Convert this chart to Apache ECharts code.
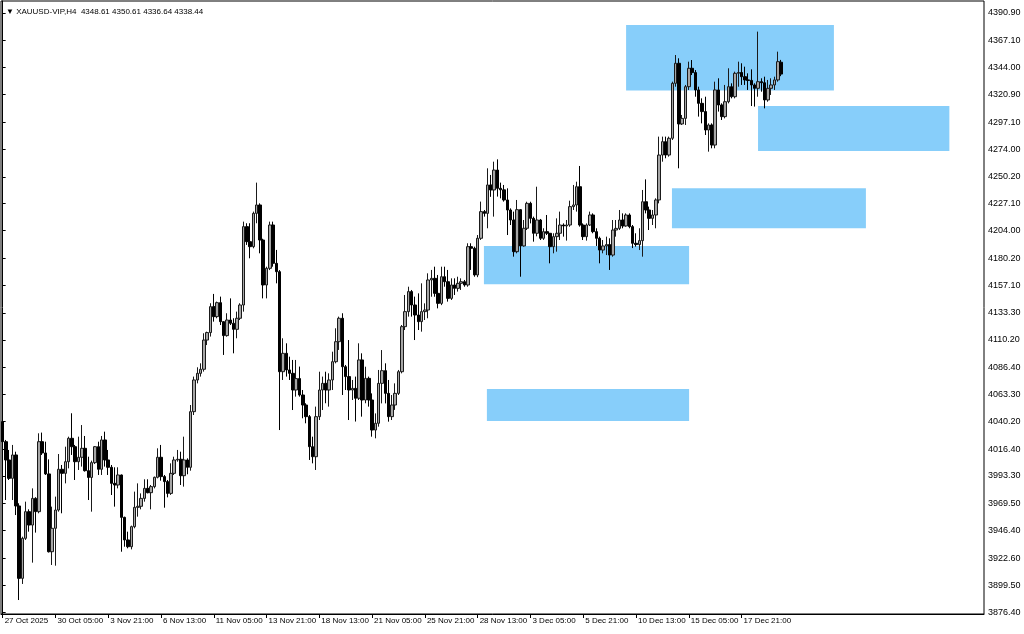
<!DOCTYPE html>
<html>
<head>
<meta charset="utf-8">
<script src="https://cdn.jsdelivr.net/npm/echarts@6/dist/echarts.min.js"></script>
<style>
html,body{margin:0;padding:0;background:#fff;}
#c{width:1024px;height:634px;}
</style>
</head>
<body>
<div id="c"></div>
<script>
// ---- data (H4 bars, [open, close, low, high]) ----
const symbolName = 'XAUUSD-VIP,H4';
const ohlc = [
[4039.9,4022.7,4014.1,4050.5],[4022.7,4007.0,3972.6,4024.2],[4007.0,3991.2,3989.8,4015.6],[3991.2,4011.3,3972.6,4019.9],
[4011.3,3967.5,3959.7,4014.1],[3967.5,3905.3,3886.7,3969.8],[3905.3,3939.7,3900.5,3941.1],[3939.7,3962.6,3938.3,3971.2],
[3962.6,3951.1,3945.4,3964.6],[3951.1,3974.0,3918.8,3982.6],[3974.0,3962.6,3944.6,3975.0],[3962.6,4022.7,3961.2,4029.9],
[4022.7,4013.0,4011.3,4030.5],[4013.0,3995.0,3994.1,4022.7],[3995.0,3928.2,3927.5,4007.5],[3928.2,3948.3,3916.8,3966.9],
[3948.3,3964.0,3916.2,3975.5],[3964.0,3999.0,3962.6,4012.1],[3999.0,3995.5,3961.2,4002.7],[3995.5,4005.5,3986.9,4018.4],
[4005.5,4025.6,3999.8,4027.0],[4025.6,4018.4,4011.3,4047.1],[4018.4,4005.5,3989.8,4019.9],[4005.5,4009.3,3998.4,4027.0],
[4009.3,4017.0,4001.3,4037.0],[4017.0,3997.8,3997.0,4027.6],[3997.8,3992.0,3972.6,4009.8],[3992.0,4004.7,3962.6,4006.4],
[4004.7,4018.4,4003.5,4019.0],[4018.4,3999.0,3994.1,4022.7],[3999.0,4024.2,3994.1,4027.6],[4024.2,4007.0,4001.3,4031.3],
[4007.0,4000.7,3994.1,4015.6],[4000.7,3986.9,3976.9,4002.7],[3986.9,3985.5,3966.9,4000.7],[3985.5,3994.1,3982.6,4000.7],
[3994.1,3957.7,3928.2,3994.5],[3957.7,3938.3,3932.5,3958.3],[3938.3,3932.5,3931.1,3945.4],[3932.5,3949.7,3930.2,3950.6],
[3949.7,3966.3,3948.3,3979.8],[3966.3,3967.2,3958.3,3986.9],[3967.2,3974.0,3964.6,3978.3],[3974.0,3982.6,3971.2,3990.4],
[3982.6,3978.9,3978.3,3990.4],[3978.9,3984.1,3964.6,3985.5],[3984.1,3992.1,3982.6,3992.7],[3992.1,4009.3,3991.2,4017.0],
[4009.3,3992.7,3989.2,4019.9],[3992.7,3988.4,3966.0,3994.1],[3988.4,3978.3,3974.9,3989.8],[3978.3,3995.5,3977.0,4004.1],
[3995.5,4007.0,3994.1,4009.8],[4007.0,4007.6,4005.5,4015.6],[4007.6,3993.5,3985.5,4014.1],[3993.5,4007.0,3984.1,4027.0],
[4007.0,4000.7,3994.7,4008.4],[4000.7,4048.5,3997.8,4054.2],[4048.5,4075.7,4045.6,4078.6],[4075.7,4081.4,4072.8,4086.6],
[4081.4,4084.9,4078.6,4090.0],[4084.9,4110.0,4082.9,4115.8],[4110.0,4116.4,4105.7,4117.2],[4116.4,4138.7,4113.0,4141.6],
[4138.7,4130.1,4125.8,4149.6],[4130.1,4142.1,4128.7,4143.0],[4142.1,4125.8,4122.9,4147.3],[4125.8,4113.8,4097.2,4126.0],
[4113.8,4127.2,4112.9,4133.0],[4127.2,4124.4,4122.9,4145.8],[4124.4,4119.2,4098.6,4128.7],[4119.2,4128.7,4111.5,4134.4],
[4128.7,4140.1,4127.2,4141.6],[4140.1,4207.4,4134.4,4211.7],[4207.4,4194.5,4191.7,4210.3],[4194.5,4190.2,4180.2,4210.3],
[4190.2,4218.8,4188.8,4220.3],[4218.8,4226.0,4210.3,4245.2],[4226.0,4195.9,4184.5,4227.4],[4195.9,4157.3,4145.8,4197.0],
[4157.3,4171.6,4145.8,4173.0],[4171.6,4208.8,4170.1,4211.7],[4208.8,4175.9,4173.0,4211.7],[4175.9,4168.7,4158.7,4187.4],
[4168.7,4082.8,4032.7,4170.1],[4082.8,4098.6,4075.7,4111.5],[4098.6,4084.3,4078.6,4107.2],[4084.3,4081.4,4075.7,4095.7],
[4081.4,4067.1,4049.9,4092.9],[4067.1,4076.9,4061.4,4092.9],[4076.9,4062.8,4061.4,4087.2],[4062.8,4054.2,4042.8,4067.1],
[4054.2,4044.2,4038.5,4055.7],[4044.2,4018.4,4007.0,4045.6],[4018.4,4009.8,4004.1,4027.0],[4009.8,4044.2,3998.4,4052.8],
[4044.2,4067.1,4041.3,4082.8],[4067.1,4072.8,4049.9,4078.6],[4072.8,4067.1,4055.7,4082.8],[4067.1,4075.7,4052.8,4081.4],
[4075.7,4091.4,4067.1,4100.0],[4091.4,4108.6,4090.0,4120.1],[4108.6,4128.7,4101.5,4130.1],[4128.7,4087.1,4062.8,4133.0],
[4087.1,4078.6,4067.1,4088.6],[4078.6,4067.1,4041.3,4110.0],[4067.1,4068.5,4058.5,4075.7],[4068.5,4060.0,4040.0,4078.6],
[4060.0,4092.9,4058.5,4107.2],[4092.9,4058.5,4044.2,4098.6],[4058.5,4077.1,4055.7,4087.1],[4077.1,4058.5,4052.8,4078.6],
[4058.5,4032.7,4027.0,4064.2],[4032.7,4038.5,4025.6,4047.0],[4038.5,4072.8,4035.6,4084.3],[4072.8,4083.7,4055.6,4101.4],
[4083.7,4064.2,4055.6,4090.0],[4064.2,4044.2,4039.9,4075.7],[4044.2,4054.2,4041.3,4062.8],[4054.2,4064.2,4050.0,4072.8],
[4064.2,4082.8,4062.8,4084.3],[4082.8,4121.5,4081.4,4122.9],[4121.5,4134.4,4118.6,4148.7],[4134.4,4151.6,4130.1,4155.8],
[4151.6,4140.1,4130.1,4153.0],[4140.1,4131.5,4110.0,4147.3],[4131.5,4125.8,4118.6,4150.1],[4125.8,4134.4,4117.2,4158.7],
[4134.4,4135.8,4127.2,4141.5],[4135.8,4161.6,4128.7,4167.3],[4161.6,4163.0,4147.2,4170.2],[4163.0,4150.1,4147.2,4173.0],
[4150.1,4141.5,4137.2,4165.9],[4141.5,4164.4,4140.0,4173.0],[4164.4,4160.1,4155.8,4173.0],[4160.1,4145.8,4143.0,4170.2],
[4145.8,4157.3,4144.4,4163.0],[4157.3,4154.4,4148.7,4163.0],[4154.4,4158.7,4151.6,4164.4],[4158.7,4160.1,4153.0,4163.0],
[4160.1,4157.3,4155.8,4161.6],[4157.3,4190.2,4155.8,4193.1],[4190.2,4188.8,4170.2,4193.1],[4188.8,4165.9,4164.4,4190.2],
[4165.9,4197.4,4164.0,4200.2],[4197.4,4220.3,4196.0,4228.9],[4220.3,4218.8,4216.0,4221.7],[4218.8,4243.2,4206.0,4257.5],
[4243.2,4238.9,4233.0,4251.8],[4238.9,4256.0,4216.0,4263.2],[4256.0,4240.3,4233.2,4265.2],[4240.3,4239.0,4231.7,4245.2],
[4239.0,4230.3,4228.9,4243.2],[4230.3,4221.7,4200.2,4240.3],[4221.7,4213.1,4208.8,4223.1],[4213.1,4185.9,4181.6,4220.3],
[4185.9,4222.0,4184.5,4230.3],[4222.0,4190.8,4164.4,4222.5],[4190.8,4206.0,4190.2,4213.1],[4206.0,4227.4,4204.5,4228.8],
[4227.4,4214.5,4210.2,4228.8],[4214.5,4201.7,4194.5,4216.0],[4201.7,4213.1,4199.1,4241.7],[4213.1,4197.4,4195.9,4214.0],
[4197.4,4203.1,4196.0,4206.0],[4203.1,4201.7,4200.2,4217.4],[4201.7,4190.2,4175.9,4201.9],[4190.2,4198.8,4184.5,4201.7],
[4198.8,4201.7,4185.9,4214.5],[4201.7,4208.8,4195.9,4220.3],[4208.8,4208.0,4198.8,4210.2],[4208.0,4208.8,4195.4,4213.1],
[4208.8,4224.6,4207.3,4229.7],[4224.6,4226.0,4221.7,4243.2],[4226.0,4241.7,4220.3,4246.0],[4241.7,4208.8,4207.4,4259.5],
[4208.8,4198.8,4195.9,4210.2],[4198.8,4208.8,4195.4,4210.2],[4208.8,4217.4,4207.9,4220.3],[4217.4,4203.1,4201.7,4218.8],
[4203.1,4197.4,4190.8,4206.0],[4197.4,4187.3,4175.9,4198.8],[4187.3,4190.8,4184.5,4195.9],[4190.8,4192.0,4183.0,4198.8],
[4192.0,4183.0,4170.2,4197.4],[4183.0,4204.5,4181.6,4213.1],[4204.5,4205.9,4198.8,4213.1],[4205.9,4213.1,4204.5,4221.7],
[4213.1,4208.0,4206.0,4218.8],[4208.0,4217.4,4207.3,4218.8],[4217.4,4207.4,4206.0,4218.8],[4207.4,4193.1,4189.0,4208.8],
[4193.1,4192.0,4190.2,4201.7],[4192.0,4195.4,4187.3,4206.0],[4195.4,4228.8,4181.6,4238.9],[4228.8,4221.7,4218.8,4248.0],
[4221.7,4214.5,4204.5,4224.6],[4214.5,4217.4,4208.8,4221.7],[4217.4,4230.3,4206.0,4231.7],[4230.3,4268.9,4227.4,4284.7],
[4268.9,4280.4,4263.2,4284.7],[4280.4,4268.9,4266.1,4284.7],[4268.9,4283.3,4267.5,4284.7],[4283.3,4330.5,4281.8,4331.9],
[4330.5,4347.7,4327.6,4354.8],[4347.7,4295.6,4257.5,4352.0],[4295.6,4300.4,4294.7,4303.3],[4300.4,4327.6,4294.7,4329.1],
[4327.6,4343.4,4324.8,4349.1],[4343.4,4339.7,4337.6,4350.5],[4339.7,4324.8,4319.0,4341.9],[4324.8,4313.3,4301.9,4327.6],
[4313.3,4306.2,4296.1,4317.6],[4306.2,4290.4,4286.1,4319.0],[4290.4,4294.7,4271.8,4296.1],[4294.7,4277.5,4274.7,4296.1],
[4277.5,4324.8,4274.7,4331.9],[4324.8,4311.9,4306.2,4334.8],[4311.9,4301.9,4299.0,4313.3],[4301.9,4314.7,4300.4,4329.1],
[4314.7,4327.6,4313.3,4343.4],[4327.6,4319.0,4317.6,4330.5],[4319.0,4339.1,4317.6,4340.5],[4339.1,4339.8,4327.6,4349.1],
[4339.8,4336.2,4329.1,4347.7],[4336.2,4333.4,4329.1,4344.8],[4333.4,4333.0,4324.8,4339.1],[4333.0,4329.1,4311.0,4342.5],
[4329.1,4326.2,4310.5,4330.5],[4326.2,4331.9,4319.0,4374.9],[4331.9,4331.0,4323.3,4334.8],[4331.0,4316.2,4309.0,4336.2],
[4316.2,4326.2,4314.7,4333.4],[4326.2,4329.1,4320.5,4334.8],[4329.1,4333.4,4324.8,4336.2],[4333.4,4349.1,4331.9,4357.7],
[4348.61,4338.44,4336.64,4350.61]
];
// time-axis labels, one every 16 H4 bars
const timeLabels = ['27 Oct 2025','30 Oct 05:00','3 Nov 21:00','6 Nov 13:00','11 Nov 05:00','13 Nov 21:00',
  '18 Nov 13:00','21 Nov 05:00','25 Nov 21:00','28 Nov 13:00','3 Dec 05:00','5 Dec 21:00','10 Dec 13:00',
  '15 Dec 05:00','17 Dec 21:00'];
const labelEvery = 16;
const slotCount = 298; // bar slots across the window (incl. empty space to the right)
// price-scale labels
const priceTicks = [4390.90,4367.10,4344.00,4320.90,4297.10,4274.00,4250.20,4227.10,4204.00,4180.20,4157.10,
  4133.30,4110.20,4086.40,4063.30,4040.20,4016.40,3993.30,3969.50,3946.40,3922.60,3899.50,3876.40];
const priceMin = 3874.7, priceMax = 4401.2;
// rectangle zones: [fromBar, toBar, priceTop, priceBottom]
const zones = [
  [189.0, 252.0, 4380.6, 4324.3],
  [229.0, 287.0, 4311.0, 4272.4],
  [202.9, 261.7, 4240.3, 4206.0],
  [145.9, 208.1, 4190.8, 4157.9],
  [146.8, 208.1, 4067.9, 4040.5]
];

const cats = Array.from({length: slotCount}, (_, i) => String(i));
const last = ohlc[ohlc.length - 1];
const headerText = '\u25BC ' + symbolName + '  ' + last[0].toFixed(2) + ' ' + last[3].toFixed(2) + ' ' +
  last[2].toFixed(2) + ' ' + last[1].toFixed(2);
const showIdx = (i) => i % labelEvery === 0 && (i / labelEvery) < timeLabels.length;
const FONT = 'Liberation Sans';

const chart = echarts.init(document.getElementById('c'), null, {renderer: 'canvas'});
chart.setOption({
  animation: false,
  backgroundColor: '#ffffff',
  title: {
    text: headerText, left: 1, top: 3,
    textStyle: {fontSize: 8, fontWeight: 'normal', color: '#000', fontFamily: FONT}
  },
  grid: {left: 1, top: 1, right: 40, bottom: 20, show: true, borderColor: '#000', borderWidth: 1, backgroundColor: 'transparent'},
  xAxis: [{
    type: 'category', data: cats, boundaryGap: true,
    axisLine: {show: true, lineStyle: {color: '#000', width: 1}},
    axisTick: {show: true, alignWithLabel: true, interval: (i) => showIdx(i), length: 4, lineStyle: {color: '#000'}},
    axisLabel: {
      show: true, interval: (i) => showIdx(i), align: 'left', margin: 3, padding: [0,0,0,2],
      formatter: (v, i) => timeLabels[i / labelEvery] || '',
      fontSize: 8, color: '#000', fontFamily: FONT
    },
    splitLine: {show: false}
  }, {
    type: 'value', min: -0.5, max: slotCount - 0.5, show: false
  }],
  yAxis: [{
    type: 'value', position: 'right', min: priceMin, max: priceMax, scale: true,
    axisLine: {show: true, lineStyle: {color: '#000', width: 1}},
    axisTick: {show: true, length: 3, customValues: priceTicks, lineStyle: {color: '#000'}},
    axisLabel: {show: true, margin: 4, customValues: priceTicks, formatter: (v) => v.toFixed(2),
      fontSize: 9, color: '#000', fontFamily: FONT},
    splitLine: {show: false}
  }],
  series: [{
    type: 'line', xAxisIndex: 1, yAxisIndex: 0, data: [], z: 1, silent: true,
    markArea: {
      silent: true,
      itemStyle: {color: '#87cefa', opacity: 1},
      data: zones.map(z => [{coord: [z[0], z[2]]}, {coord: [z[1], z[3]]}])
    }
  }, {
    type: 'candlestick', xAxisIndex: 0, yAxisIndex: 0, data: ohlc, z: 3,
    barWidth: 3,
    itemStyle: {color: '#a6a6a6', color0: '#000000', borderColor: '#1a1a1a', borderColor0: '#000000', borderWidth: 1},
    markLine: {
      silent: true, symbol: ['none','none'],
      lineStyle: {opacity: 0},
      label: {show: true, position: 'end', distance: 3, formatter: () => last[1].toFixed(2),
        backgroundColor: '#000', color: '#fff', padding: [2,2,1,2], fontSize: 9, fontFamily: FONT},
      data: [{yAxis: last[1]}]
    }
  }]
});
</script>
</body>
</html>
